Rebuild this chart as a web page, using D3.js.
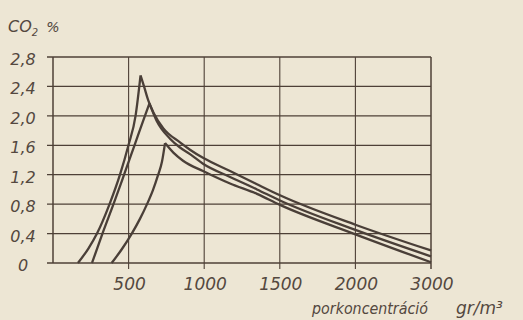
<!DOCTYPE html>
<html>
<head>
<meta charset="utf-8">
<script src="https://cdn.jsdelivr.net/npm/d3@7"></script>
<style>
  html, body { margin: 0; padding: 0; background: #ede6d4; }
  svg { display: block; }
  text { font-family: "DejaVu Sans", sans-serif; font-style: italic; fill: #54483f; }
</style>
</head>
<body>
<div id="chart"></div>
<script>
// ---- data -------------------------------------------------------------
var xTicks = [0, 500, 1000, 1500, 2000, 3000];   // grid columns, evenly spaced on paper
var xLabels = [500, 1000, 1500, 2000, 3000];
var yTicks = [0, 0.4, 0.8, 1.2, 1.6, 2.0, 2.4, 2.8];

// each curve: rising branch and falling branch, [porkoncentráció, CO2 %]
var curveA_rise = [[165, 0], [235, 0.2], [291, 0.4], [374, 0.8], [443, 1.2], [499, 1.6], [546, 2.0], [579, 2.55]];
var curveA_fall = [[579, 2.55], [602, 2.4], [630, 2.21], [663, 2.05], [730, 1.83], [840, 1.64], [906, 1.54],
                   [992, 1.43], [1171, 1.25], [1349, 1.07], [1501, 0.92], [2000, 0.52], [3000, 0.17]];
var curveB_rise = [[258, 0], [327, 0.4], [400, 0.8], [470, 1.2], [539, 1.6], [608, 2.0], [638, 2.17]];
var curveB_fall = [[638, 2.17], [686, 1.93], [774, 1.69], [840, 1.57], [906, 1.48], [992, 1.35], [1171, 1.17],
                   [1349, 1.0], [1501, 0.85], [2000, 0.45], [3000, 0.09]];
var curveC_rise = [[388, 0], [456, 0.19], [521, 0.4], [575, 0.6], [622, 0.8], [661, 0.99], [694, 1.19],
                   [721, 1.38], [741, 1.63]];
var curveC_fall = [[741, 1.63], [796, 1.5], [860, 1.39], [992, 1.25], [1171, 1.08], [1349, 0.94],
                   [1501, 0.79], [2000, 0.39], [3000, 0.01]];

// ---- layout ------------------------------------------------------------
var W = 523, H = 320;
var plotL = 53, plotR = 431, plotT = 57, plotB = 263;
var ink = "#4e4037";

var svg = d3.select("#chart").append("svg")
    .attr("width", W)
    .attr("height", H);

svg.append("rect").attr("width", W).attr("height", H).attr("fill", "#ede6d4");

// x: the paper puts 0..2000 and 3000 at equal steps
var x = d3.scaleLinear()
    .domain(xTicks)
    .range(xTicks.map(function(d, i) { return plotL + i * (plotR - plotL) / (xTicks.length - 1); }));
var y = d3.scaleLinear().domain([0, 2.8]).range([plotB, plotT]);

var fmt = d3.formatLocale({decimal: ",", thousands: "", grouping: [3], currency: ["", ""]});
var yFmt = function(d) { return d === 0 ? "0" : fmt.format(".1f")(d); };

// horizontal grid lines (a little past the y axis, like ticks)
svg.append("g").selectAll("line")
    .data(yTicks)
    .enter().append("line")
    .attr("x1", plotL - 6)
    .attr("x2", plotR)
    .attr("y1", function(d) { return y(d); })
    .attr("y2", function(d) { return y(d); })
    .attr("stroke", ink)
    .attr("stroke-width", function(d) { return d === 0 ? 1.6 : 1.3; });

// vertical grid lines (drop a little below the base line)
svg.append("g").selectAll("line")
    .data(xTicks)
    .enter().append("line")
    .attr("x1", function(d) { return x(d); })
    .attr("x2", function(d) { return x(d); })
    .attr("y1", plotT)
    .attr("y2", function(d) { return d === 0 ? plotB : plotB + 6; })
    .attr("stroke", ink)
    .attr("stroke-width", function(d) { return (d === 0 || d === 3000) ? 1.5 : 1.1; });

// y tick labels
svg.append("g").selectAll("text")
    .data(yTicks)
    .enter().append("text")
    .attr("x", 23)
    .attr("y", function(d) { return y(d) + 8; })
    .attr("text-anchor", "middle")
    .attr("font-size", 16)
    .text(yFmt);

// x tick labels
svg.append("g").selectAll("text")
    .data(xLabels)
    .enter().append("text")
    .attr("x", function(d) { return x(d) + 1; })
    .attr("y", 290)
    .attr("text-anchor", "middle")
    .attr("font-size", 17)
    .text(function(d) { return d; });

// axis titles
var yt = svg.append("text").attr("x", 8).attr("y", 32).attr("font-size", 16);
yt.append("tspan").text("CO");
yt.append("tspan").attr("font-size", 10).attr("dy", 4).text("2");
yt.append("tspan").attr("font-size", 14).attr("dy", -4).attr("dx", 8).text("%");

svg.append("text")
    .attr("x", 312).attr("y", 314)
    .attr("font-size", 15)
    .attr("textLength", 116).attr("lengthAdjust", "spacingAndGlyphs")
    .text("porkoncentráció");
svg.append("text")
    .attr("x", 456).attr("y", 314)
    .attr("font-size", 17)
    .text("gr/m³");

// curves
var line = d3.line()
    .x(function(d) { return x(d[0]); })
    .y(function(d) { return y(d[1]); })
    .curve(d3.curveMonotoneX);

var curves = [[curveA_rise, curveA_fall], [curveB_rise, curveB_fall], [curveC_rise, curveC_fall]];

svg.append("g").selectAll("path")
    .data(curves)
    .enter().append("path")
    .attr("d", function(c) { return line(c[0]) + line(c[1]); })
    .attr("fill", "none")
    .attr("stroke", "#4a3f38")
    .attr("stroke-width", 2.3)
    .attr("stroke-linejoin", "miter");
</script>
</body>
</html>
